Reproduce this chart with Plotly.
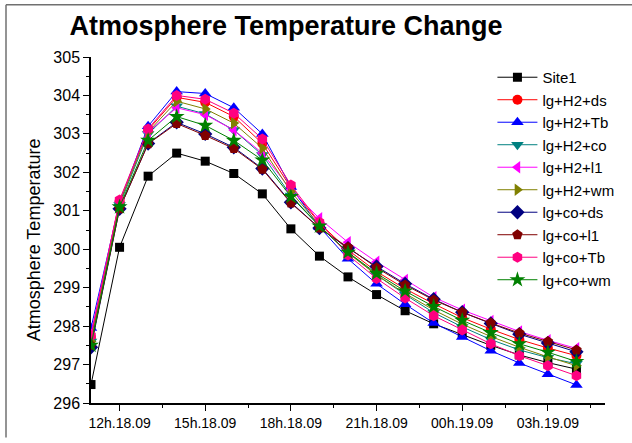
import plotly.graph_objects as go

hours = [11, 12, 13, 14, 15, 16, 17, 18, 19, 20, 21, 22, 23, 24, 25, 26, 27, 28]
tick_vals = [12, 15, 18, 21, 24, 27]
tick_text = ["12h.18.09", "15h.18.09", "18h.18.09", "21h.18.09", "00h.19.09", "03h.19.09"]

site1 = [296.48, 300.05, 301.90, 302.50, 302.29, 301.97, 301.44, 300.53, 299.82, 299.28,
         298.82, 298.40, 298.06, 297.78, 297.50, 297.25, 297.05, 296.88]
lg_h2_ds = [297.70, 301.25, 303.10, 303.95, 303.82, 303.45, 302.75, 301.60, 300.68, 299.98,
            299.42, 298.97, 298.58, 298.22, 297.92, 297.65, 297.43, 297.23]
lg_h2_tb = [297.95, 301.20, 303.20, 304.10, 304.05, 303.68, 303.00, 301.62, 300.58, 299.75,
            299.10, 298.57, 298.08, 297.72, 297.36, 297.04, 296.75, 296.47]
lg_h2_co = [297.60, 301.15, 303.00, 303.72, 303.52, 303.10, 302.45, 301.40, 300.60, 299.92,
            299.33, 298.82, 298.35, 297.98, 297.65, 297.38, 297.18, 297.02]
lg_h2_l1 = [297.80, 301.25, 303.05, 303.68, 303.50, 303.10, 302.50, 301.55, 300.80, 300.18,
            299.67, 299.20, 298.75, 298.42, 298.13, 297.86, 297.63, 297.42]
lg_h2_wm = [297.60, 301.20, 303.05, 303.85, 303.65, 303.28, 302.63, 301.50, 300.62, 299.90,
            299.33, 298.85, 298.42, 298.05, 297.73, 297.45, 297.20, 296.97]
lg_co_ds = [297.45, 301.05, 302.75, 303.30, 303.00, 302.65, 302.10, 301.22, 300.55, 300.03,
            299.55, 299.10, 298.70, 298.36, 298.07, 297.79, 297.56, 297.33]
lg_co_l1 = [297.50, 301.05, 302.74, 303.27, 302.96, 302.62, 302.08, 301.20, 300.55, 300.05,
            299.52, 299.07, 298.68, 298.36, 298.08, 297.82, 297.60, 297.38]
lg_co_tb = [297.75, 301.28, 303.13, 304.00, 303.90, 303.54, 302.87, 301.67, 300.70, 299.85,
            299.24, 298.73, 298.27, 297.90, 297.54, 297.23, 296.97, 296.71]
lg_co_wm = [297.50, 301.10, 302.83, 303.45, 303.22, 302.83, 302.32, 301.37, 300.60, 299.92,
            299.37, 298.91, 298.51, 298.15, 297.83, 297.54, 297.32, 297.08]

series = [
    ("Site1", site1, "#000000", "square", 9),
    ("lg+H2+ds", lg_h2_ds, "#FF0000", "circle", 10),
    ("lg+H2+Tb", lg_h2_tb, "#0000FF", "triangle-up", 11),
    ("lg+H2+co", lg_h2_co, "#008080", "triangle-down", 11),
    ("lg+H2+l1", lg_h2_l1, "#FF00FF", "triangle-left", 11),
    ("lg+H2+wm", lg_h2_wm, "#808000", "triangle-right", 11),
    ("lg+co+ds", lg_co_ds, "#000080", "diamond", 11),
    ("lg+co+l1", lg_co_l1, "#800000", "pentagon", 11),
    ("lg+co+Tb", lg_co_tb, "#FF0080", "hexagon", 11),
    ("lg+co+wm", lg_co_wm, "#008000", "star", 12),
]

fig = go.Figure()
for name, vals, color, sym, size in series:
    fig.add_trace(go.Scatter(
        x=hours, y=vals, name=name, mode="lines+markers",
        line=dict(color=color, width=1),
        marker=dict(symbol=sym, size=size, color=color, line=dict(width=0)),
    ))

FONT = "Liberation Sans, Arial, sans-serif"

fig.update_layout(
    width=632, height=443,
    margin=dict(l=91, r=27, t=57, b=35),
    paper_bgcolor="white", plot_bgcolor="white",
    font=dict(family=FONT, color="black"),
    showlegend=True,
    legend=dict(
        x=0.781, y=0.9885, xanchor="left", yanchor="top",
        font=dict(size=15, family=FONT, color="black"),
        bgcolor="rgba(0,0,0,0)", borderwidth=0,
        itemwidth=40, tracegroupgap=0,
    ),
    title=dict(
        text="<b>Atmosphere Temperature Change</b>",
        font=dict(size=27, family=FONT, color="black"),
        x=0.4525, xanchor="center", xref="container",
        y=0.942, yanchor="middle", yref="container",
    ),
    annotations=[dict(
        text="Atmosphere Temperature", textangle=-90,
        font=dict(size=18, family=FONT, color="black"),
        xref="paper", yref="paper",
        x=(34 - 91) / 514, y=(408 - 243) / 351,
        xanchor="center", yanchor="middle", showarrow=False,
    )],
    shapes=[
        dict(type="line", xref="paper", yref="paper",
             x0=(6 - 91) / 514, x1=(632 - 91) / 514,
             y0=(408 - 4) / 351, y1=(408 - 4) / 351,
             line=dict(color="#707070", width=1.5)),
        dict(type="line", xref="paper", yref="paper",
             x0=(6 - 91) / 514, x1=(6 - 91) / 514,
             y0=(408 - 4) / 351, y1=(408 - 443) / 351,
             line=dict(color="#707070", width=1.5)),
    ],
)

fig.update_xaxes(
    range=[11, 29], tickmode="array", tickvals=tick_vals, ticktext=tick_text,
    showgrid=False, zeroline=False, showline=True, linecolor="black", linewidth=1.5,
    ticks="outside", ticklen=6, tickwidth=1.2, tickcolor="black",
    tickfont=dict(size=14, family=FONT, color="black"),
    minor=dict(tickmode="linear", tick0=10.5, dtick=1.5, ticks="outside", ticklen=3,
               tickwidth=1.2, tickcolor="black", showgrid=False),
)
fig.update_yaxes(
    range=[296, 305], dtick=1, tick0=296,
    showgrid=False, zeroline=False, showline=True, linecolor="black", linewidth=1.5,
    ticks="outside", ticklen=6, tickwidth=1.2, tickcolor="black",
    tickfont=dict(size=16, family=FONT, color="black"),
    minor=dict(dtick=0.5, ticks="outside", ticklen=3, tickwidth=1.2,
               tickcolor="black", showgrid=False),
)

fig.write_html("out.html")
